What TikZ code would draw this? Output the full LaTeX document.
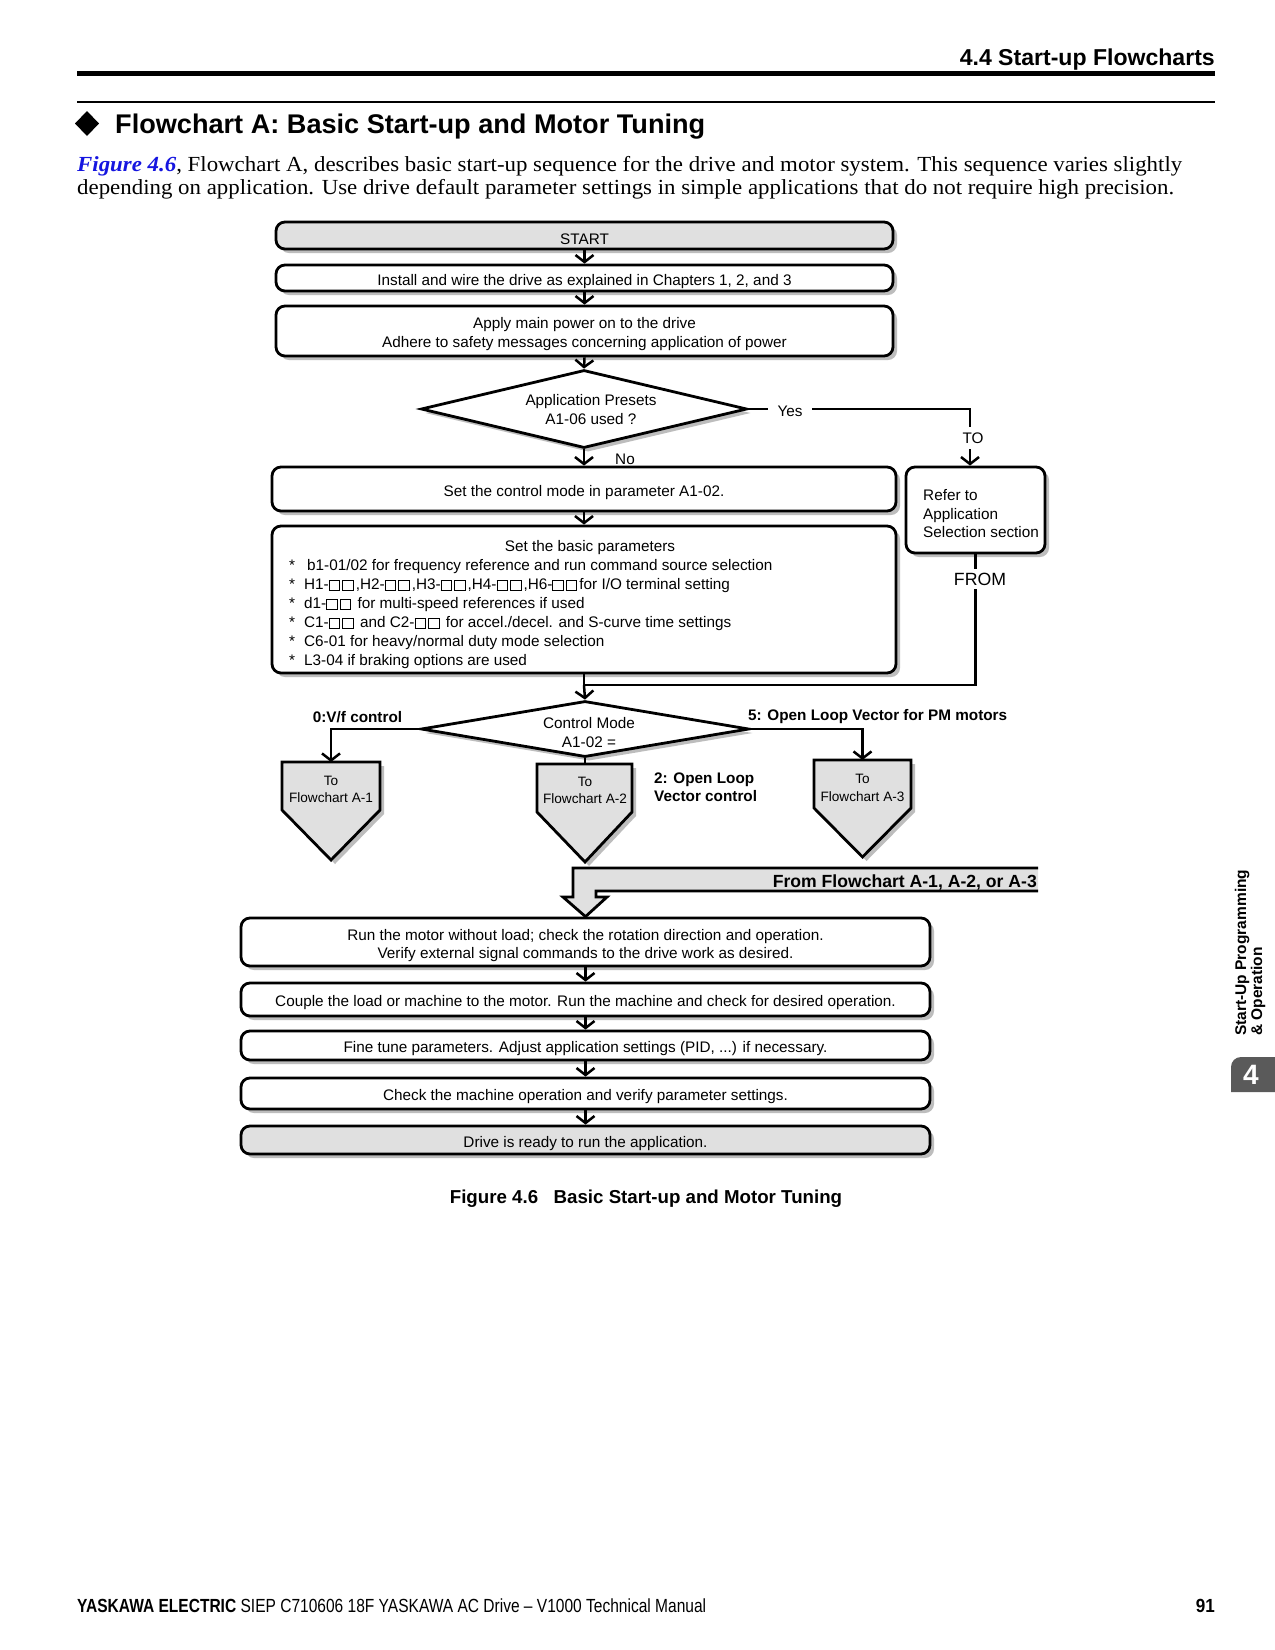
\documentclass[tikz,border=0pt]{standalone}
\usepackage{fontspec}
\setmainfont{Liberation Sans}
\newfontfamily\tnr{Liberation Serif}
\usetikzlibrary{arrows.meta,shapes.geometric,shadows}
\definecolor{boxgray}{HTML}{E0E0E0}
\definecolor{shadowgray}{HTML}{BDBDBD}
\definecolor{tabgray}{HTML}{5A5A5A}
\definecolor{linkblue}{HTML}{1515E0}
\newcommand{\fs}[2]{\fontsize{#1}{#2}\selectfont}
\newcommand{\sq}{{\setlength{\fboxsep}{0pt}\setlength{\fboxrule}{1pt}\fbox{\rule{0pt}{9.2pt}\rule{9.5pt}{0pt}}}\kern2pt}
\begin{document}
\begin{tikzpicture}[x=1pt,y=-1pt,
  shad/.style={drop shadow={shadow xshift=4pt,shadow yshift=-4pt,fill=shadowgray,opacity=1}},
  box/.style={draw,line width=2.8pt,rounded corners=9pt,fill=white,shad,minimum width=617pt,inner sep=0pt},
  graybox/.style={box,fill=boxgray},
  dia/.style={diamond,draw,line width=2.8pt,fill=white,shad,inner sep=0pt},
  arr/.style={line width=2.5pt,-{Straight Barb[length=7pt,width=18pt]}},
  conn/.style={line width=2.5pt},
  txt/.style={inner sep=0pt,align=center,font=\fs{15.3}{18.5}},
  btxt/.style={inner sep=0pt,font=\bfseries\fs{15.3}{18}},
  offpage/.style={draw,line width=2.8pt,fill=boxgray,shad,line join=miter},
  pentxt/.style={inner sep=0pt,align=center,font=\fs{13.6}{17.5}}]
\useasboundingbox (0,0) rectangle (1275,1650);
\fill[white] (0,0) rectangle (1275,1650);

% header
\node[anchor=base east,inner sep=0pt,font=\bfseries\fs{23}{26}] (hdr) at (1215,65) {\resizebox{255pt}{\height}{4.4 Start-up Flowcharts}};
\draw[line width=4.5pt] (77,73.5) -- (1215,73.5);
\draw[line width=2pt] (77,102) -- (1215,102);
\fill (87,111) -- (99,123.5) -- (87,136) -- (75,123.5) -- cycle;
\node[anchor=base west,inner sep=0pt,font=\bfseries\fs{27}{30}] (title) at (115,133) {\resizebox{590pt}{\height}{Flowchart A: Basic Start-up and Motor Tuning}};
\node[anchor=base west,inner sep=0pt,font=\tnr\fs{21.5}{23}] (p1) at (77,171) {\resizebox{1105pt}{\height}{{\color{linkblue}\bfseries\itshape Figure 4.6}, Flowchart A, describes basic start-up sequence for the drive and motor system. This sequence varies slightly}};
\node[anchor=base west,inner sep=0pt,font=\tnr\fs{21.5}{23}] (p2) at (77,194) {\resizebox{1097pt}{\height}{depending on application. Use drive default parameter settings in simple applications that do not require high precision.}};

% upper boxes
\node[graybox,minimum height=27pt] (start) at (584.5,235.5) {};
\node[txt] (starttxt) at ([yshift=-3.5pt]start.center) {START};
\node[box,minimum height=26pt] (install) at (584.5,278) {};
\node[txt] (installtxt) at ([yshift=-3.5pt]install.center) {Install and wire the drive as explained in Chapters 1, 2, and 3};
\node[box,minimum height=50pt] (apply) at (584.5,331) {};
\node[txt,font=\fs{15.3}{19}] (applytxt) at ([yshift=-3.5pt]apply.center) {Apply main power on to the drive\\Adhere to safety messages concerning application of power};
\draw[arr] (start.south) -- (install.north);
\draw[arr] (install.south) -- (apply.north);

\node[dia,minimum width=326pt,minimum height=78pt] (presets) at (584,409) {};
\node[txt,font=\fs{15.3}{19}] (presetstxt) at (591,410) {Application Presets\\A1-06 used ?};
\draw[arr] (apply.south) -- (presets.north);

\node[box,minimum width=624pt,minimum height=44pt] (mode) at (584,489) {};
\node[txt] (modetxt) at ([yshift=-3.5pt]mode.center) {Set the control mode in parameter A1-02.};
\draw[arr] (presets.south) -- (mode.north);
\node[txt] (no) at (625,459) {No};

\node[box,minimum width=624pt,minimum height=147pt] (basic) at (584,599.5) {};
\node[txt] (basictitle) at (590,548) {Set the basic parameters};
\node[txt,anchor=west,align=left,font=\fs{15.3}{19}] (basiclist) at (289,614.5) {%
\makebox[18pt][l]{*}b1-01/02 for frequency reference and run command source selection\\
\makebox[15pt][l]{*}H1-\sq\sq,H2-\sq\sq,H3-\sq\sq,H4-\sq\sq,H6-\sq\sq for I/O terminal setting\\
\makebox[15pt][l]{*}d1-\sq\sq\ for multi-speed references if used\\
\makebox[15pt][l]{*}C1-\sq\sq\ and C2-\sq\sq\ for accel./decel. and S-curve time settings\\
\makebox[15pt][l]{*}C6-01 for heavy/normal duty mode selection\\
\makebox[15pt][l]{*}L3-04 if braking options are used};
\draw[arr] (mode.south) -- (basic.north);

% application selection branch
\node[box,minimum width=139pt,minimum height=86pt] (refer) at (975.5,510) {};
\node[txt,anchor=west,align=left,font=\fs{15.3}{18.5}] (refertxt) at (923,514) {Refer to\\Application\\Selection section};
\draw[arr] (presets.east) -| ([xshift=-5.5pt]refer.north);
\node[txt,fill=white,inner xsep=10pt,inner ysep=2pt] (yes) at (790,411) {Yes};
\node[txt,fill=white,inner xsep=2pt,inner ysep=6pt] (to) at (973,438) {TO};

\coordinate (j2) at (584,685);
\draw[conn] (basic.south) -- (j2);
\draw[conn] (refer.south) |- (j2);
\node[fill=white,inner xsep=2pt,inner ysep=4pt,font=\fs{17.7}{20}] (from) at (980,579) {FROM};

% control mode decision
\node[dia,minimum width=328pt,minimum height=56pt] (cmode) at (585,729) {};
\node[txt,font=\fs{15.3}{19}] (cmodetxt) at (589,732.5) {Control Mode\\A1-02 =};
\draw[arr] (j2) -- (cmode.north);

\coordinate (a1top) at (331,762);
\coordinate (a2top) at (585,764);
\coordinate (a3top) at (862.5,760);
\draw[offpage] (282,762) -- (380,762) -- (380,810) -- (331,860) -- (282,810) -- cycle;
\draw[offpage] (537,764) -- (632,764) -- (632,812) -- (585,862) -- (537,812) -- cycle;
\draw[offpage] (814,760) -- (911,760) -- (911,808) -- (862.5,857) -- (814,808) -- cycle;
\node[pentxt] (a1txt) at (331,789.5) {To\\Flowchart A-1};
\node[pentxt] (a2txt) at (585,790.5) {To\\Flowchart A-2};
\node[pentxt] (a3txt) at (862.5,788) {To\\Flowchart A-3};
\draw[arr] (cmode.west) -| (a1top);
\draw[arr] (cmode.east) -| (a3top);
\draw[conn] (cmode.south) -- (a2top);
\node[btxt] (vf) at (357.5,717.5) {0:V/f control};
\node[btxt,anchor=west] (pm) at (748,717) {5: Open Loop Vector for PM motors};
\node[btxt,anchor=west,align=left] (olv) at (654,787) {2: Open Loop\\Vector control};

% lower boxes
\node[box,minimum width=689pt,minimum height=48pt] (run) at (585.5,942) {};
\node[txt,font=\fs{15.3}{18}] (runtxt) at ([yshift=-4pt]run.center) {Run the motor without load; check the rotation direction and operation.\\Verify external signal commands to the drive work as desired.};
\node[box,minimum width=689pt,minimum height=33pt] (couple) at (585.5,999.5) {};
\node[txt] (coupletxt) at ([yshift=-3.5pt]couple.center) {Couple the load or machine to the motor. Run the machine and check for desired operation.};
\node[box,minimum width=689pt,minimum height=29pt] (fine) at (585.5,1045.5) {};
\node[txt] (finetxt) at ([yshift=-3.5pt]fine.center) {Fine tune parameters. Adjust application settings (PID, ...) if necessary.};
\node[box,minimum width=689pt,minimum height=31pt] (check) at (585.5,1093.5) {};
\node[txt] (checktxt) at ([yshift=-3.5pt]check.center) {Check the machine operation and verify parameter settings.};
\node[graybox,minimum width=689pt,minimum height=28pt] (ready) at (585.5,1140) {};
\node[txt] (readytxt) at ([yshift=-3.5pt]ready.center) {Drive is ready to run the application.};
\draw[arr] (run.south) -- (couple.north);
\draw[arr] (couple.south) -- (fine.north);
\draw[arr] (fine.south) -- (check.north);
\draw[arr] (check.south) -- (ready.north);

% from flowchart A-1/A-2/A-3 arrow
\filldraw[fill=boxgray,line width=2.8pt,line join=miter] (1038,868) -- (573,868) -- (573,897) -- (563,897) -- (run.north) -- (607,897) -- (596,897) -- (596,891) -- (1038,891);
\node[anchor=base east,inner sep=0pt,font=\bfseries\fs{17.6}{20}] (fromtxt) at (1037,887.5) {From Flowchart A-1, A-2, or A-3};

% caption
\node[anchor=base,inner sep=0pt,font=\bfseries\fs{18.7}{22}] (caption) at (646,1203) {Figure 4.6\hspace{0.55em} Basic Start-up and Motor Tuning};

% side tab
\node[rotate=90,anchor=west,align=left,inner sep=0pt,font=\bfseries\fs{15.5}{16}] (side) at (1250,1036) {Start-Up Programming\\\& Operation};
\fill[tabgray] (1275,1092) -- (1231,1092) -- (1231,1067) arc[start angle=180,end angle=90,radius=10pt] -- (1275,1057) -- cycle;
\node[text=white,inner sep=0pt,font=\bfseries\fs{28}{30}] (tab4) at (1251,1075) {4};

% footer
\node[anchor=base west,inner sep=0pt,font=\fs{19}{22}] (foot) at (77,1612) {\resizebox{629pt}{\height}{\textbf{YASKAWA ELECTRIC} SIEP C710606 18F YASKAWA AC Drive – V1000 Technical Manual}};
\node[anchor=base east,inner sep=0pt,font=\bfseries\fs{19}{22}] (pg) at (1215,1612) {\resizebox{19pt}{\height}{91}};
\end{tikzpicture}
\end{document}
